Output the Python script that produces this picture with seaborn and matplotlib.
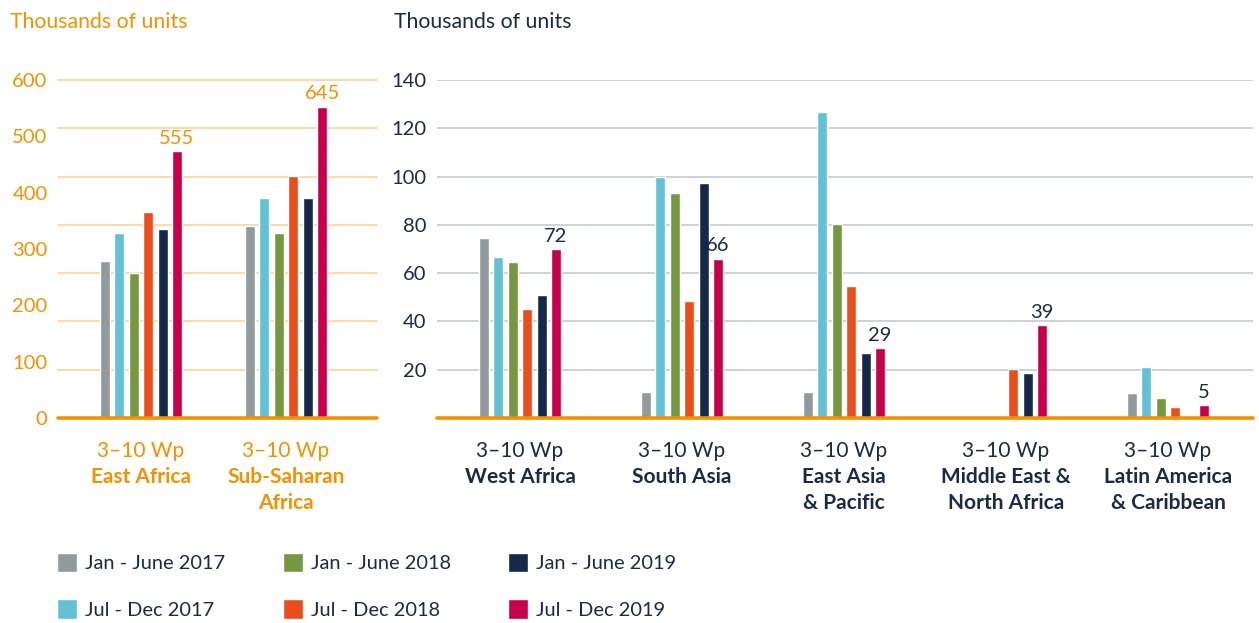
import numpy as np
import pandas as pd
import matplotlib
matplotlib.use("Agg")
import matplotlib.pyplot as plt
import seaborn as sns

# ---------------- data ----------------
periods = ["Jan - June 2017", "Jul - Dec 2017", "Jan - June 2018",
           "Jul - Dec 2018", "Jan - June 2019", "Jul - Dec 2019"]
colors = ["#929A9D", "#63C1D5", "#769840", "#E94E1B", "#14294A", "#C6004A"]

left_regions = ["East Africa", "Sub-Saharan\nAfrica"]
east_africa = [325, 383, 300, 426, 391, 552]
sub_saharan = [397, 455, 383, 501, 455, 645]
left_labels = ["555", "645"]

right_regions = ["West Africa", "South Asia", "East Asia\n& Pacific",
                 "Middle East &\nNorth Africa", "Latin America\n& Caribbean"]
west_africa = [74.5, 66.6, 64.5, 45.0, 51.0, 70.0]
south_asia = [10.8, 100.0, 93.0, 48.4, 97.2, 66.0]
east_asia = [10.8, 126.7, 80.3, 54.6, 26.9, 29.0]
mena = [0.0, 0.0, 0.0, 20.3, 18.6, 38.5]
latam = [10.4, 21.0, 8.3, 4.5, 0.8, 5.4]
right_labels = ["72", "66", "29", "39", "5"]

size_class = "3\u201310 Wp"
left_ticks = ["0", "100", "200", "300", "400", "500", "600"]
right_ticks = ["20", "40", "60", "80", "100", "120", "140"]


def long_df(regions, series):
    rows = []
    for reg, vals in zip(regions, series):
        for p, v in zip(periods, vals):
            rows.append({"region": reg, "period": p, "value": v})
    return pd.DataFrame(rows)


df_left = long_df(left_regions, [east_africa, sub_saharan])
df_right = long_df(right_regions, [west_africa, south_asia, east_asia, mena, latam])

# ---------------- style ----------------
sns.set_theme(style="white")
plt.rcParams["font.family"] = ["Lato", "DejaVu Sans"]

ORANGE = "#F39200"
NAVY = "#1B2A47"
W, H = 1259, 623
fig = plt.figure(figsize=(W / 100, H / 100), dpi=100)

def fx(px):
    return px / W

def fy(py):
    return 1 - py / H

y_top, y_bot = 80, 418
axL = fig.add_axes([fx(58), fy(y_bot), fx(377 - 58), (y_bot - y_top) / H])
axR = fig.add_axes([fx(437), fy(y_bot), fx(1253 - 437), (y_bot - y_top) / H])

pal = dict(zip(periods, colors))
sns.barplot(data=df_left, x="region", y="value", hue="period", hue_order=periods,
            palette=pal, width=6 * 14.4 / 145, gap=0.3, saturation=1,
            legend=False, ax=axL)
sns.barplot(data=df_right, x="region", y="value", hue="period", hue_order=periods,
            palette=pal, width=6 * 14.4 / 162, gap=0.3, saturation=1,
            legend=True, ax=axR)
handles, labels = axR.get_legend_handles_labels()
axR.get_legend().remove()

TICK_FS = 14.5
CAT_FS = 15
for ax in (axL, axR):
    for s in ax.spines.values():
        s.set_visible(False)
    ax.set_xlabel("")
    ax.set_ylabel("")
    ax.set_xticks(range(len(ax.get_xticks())))
    ax.set_xticklabels([])
    ax.tick_params(axis="x", length=0)
    ax.tick_params(axis="y", which="both", length=0, pad=7.5, labelsize=TICK_FS)
    ax.set_axisbelow(True)

# left panel
axL.set_xlim(-(141 - 58) / 145, 1 + (377 - 286) / 145)
axL.set_ylim(0, 700)
axL.set_yticks(np.linspace(0, 700, len(left_ticks)))
axL.set_yticklabels(left_ticks)
axL.tick_params(axis="y", labelcolor=ORANGE)
axL.grid(False)
for gy in np.arange(100, 701, 100):
    axL.axhline(gy, color="#FCD9A8", lw=1.4, zorder=0, clip_on=False)
axL.axhline(0, color=ORANGE, lw=2.6, zorder=5, clip_on=False)

# right panel
axR.set_xlim(-(520 - 437) / 162, 4 + (1253 - 1168) / 162)
axR.set_ylim(0, 140)
axR.set_yticks(np.arange(20, 141, 20))
axR.set_yticklabels(right_ticks)
axR.tick_params(axis="y", labelcolor=NAVY)
axR.grid(True, which="major", axis="y", color="#CDD2D7", lw=1.4)
axR.axhline(0, color=ORANGE, lw=2.6, zorder=5, clip_on=False)

# value labels on last series
axL.bar_label(axL.containers[-1], labels=left_labels, padding=3,
              color=ORANGE, fontsize=TICK_FS)
axR.bar_label(axR.containers[-1], labels=right_labels, padding=3,
              color=NAVY, fontsize=TICK_FS)

# category labels
def cat_labels(ax, regions, color):
    tr = ax.get_xaxis_transform()
    for i, reg in enumerate(regions):
        ax.annotate(size_class, xy=(i, 0), xycoords=tr,
                    xytext=(0, -(457 - y_bot)), textcoords="offset pixels",
                    ha="center", va="baseline", color=color, fontsize=CAT_FS)
        for j, line in enumerate(reg.split("\n")):
            ax.annotate(line, xy=(i, 0), xycoords=tr,
                        xytext=(0, -(483 + 26 * j - y_bot)), textcoords="offset pixels",
                        ha="center", va="baseline", color=color, fontsize=CAT_FS,
                        fontweight="bold")

cat_labels(axL, left_regions, ORANGE)
cat_labels(axR, right_regions, NAVY)

# titles
fig.text(fx(10), fy(22), "Thousands of units", color=ORANGE, fontsize=15.3,
         va="center", ha="left")
fig.text(fx(394), fy(22), "Thousands of units", color=NAVY, fontsize=15.3,
         va="center", ha="left")

# legend
fig.legend(handles, labels, loc="upper left", bbox_to_anchor=(fx(57), fy(553)),
           ncol=3, frameon=False, handlelength=1.0, handleheight=1.1,
           handletextpad=0.42, columnspacing=2.85, labelspacing=1.35,
           fontsize=14.4, labelcolor=NAVY, borderaxespad=0, borderpad=0)

fig.savefig("out.png", dpi=100)
